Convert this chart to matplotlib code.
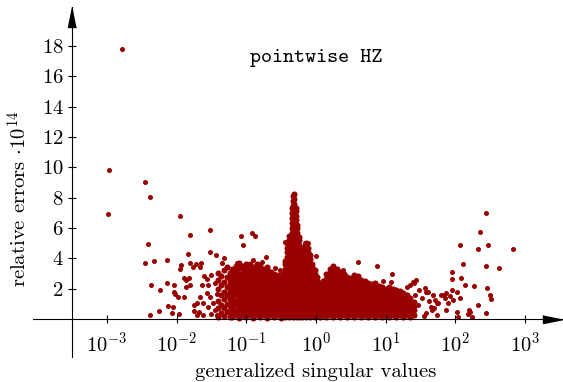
import matplotlib.pyplot as plt
import numpy as np

plt.rcParams['font.family'] = 'serif'
plt.rcParams['font.serif'] = ['cmr10']
plt.rcParams['mathtext.fontset'] = 'cm'
plt.rcParams['axes.formatter.use_mathtext'] = True

# isolated points: log10(generalized singular value), relative error * 1e14
sparse_log_sv = [
    -2.78, -2.97, -2.98, -2.45, -2.38, -1.95, -1.81, -1.52, -2.41, -2.46,
    -2.32, -2.14, -1.84, -1.52, -1.44, -2.36, -2.24, -2.14, -2.04, -2.03,
    -1.98, -2.12, -2.05, -2.25, -2.38, -2.06, -1.97, -1.89, -1.95, -1.93,
    -1.81, -1.76, -1.72, -1.66, -1.65, -1.89, -1.86, -1.82, -1.87, -1.81,
    -1.60, -1.57, -1.64, -1.55, -1.50, -1.45, -2.02, -1.66, -1.70, -1.75,
    -1.62, -1.75, -1.68, -1.70, -1.62, -1.55, -1.48, -1.42, -1.52, -1.57,
    -1.45, -1.50, -1.42,
    -1.07, -0.92, -0.87, -1.04, -1.32, -0.72, -1.13, -1.35, -0.90, -0.78,
    -0.59, -0.52, -0.43,
    -0.44, -0.16, -0.11, 0.00, 0.61, 0.88, 0.39, 1.09, 0.96, 1.07,
    1.44, 1.39, 1.35, 1.30, 1.42, 1.56, 1.58, 1.68, 1.73, 1.66,
    1.83, 1.87, 1.85, 1.92, 1.95, 1.95, 1.95, 1.97, 2.07, 2.11,
    2.08, 2.14, 2.07, 2.02, 2.21, 2.24, 2.27, 2.33, 2.32, 2.35,
    2.44, 2.47, 2.44, 2.45, 2.49, 2.51, 2.44, 2.82, 2.62,
    2.03, 1.90, 1.87, 2.04, 2.18, 2.19, 1.40, 1.61, 1.71, 1.80,
    1.75, 1.65, 1.47, 1.58, 1.73, 1.70, 1.52, 1.55, 1.62, 1.48,
]
sparse_err = [
    17.8, 9.82, 6.94, 9.05, 8.06, 6.81, 5.56, 5.89, 4.94, 3.67,
    3.82, 3.89, 4.26, 4.40, 4.24, 2.22, 1.91, 2.35, 2.24, 1.80,
    1.43, 0.86, 0.77, 0.55, 0.28, 0.42, 0.33, 1.47, 3.32, 3.56,
    3.67, 3.45, 3.63, 3.45, 3.67, 2.68, 2.57, 2.68, 2.13, 2.24,
    2.83, 2.62, 2.24, 2.24, 2.90, 2.35, 1.65, 1.43, 1.03, 0.92,
    1.07, 0.51, 0.46, 0.24, 0.24, 0.81, 1.07, 1.65, 1.47, 1.69,
    0.59, 0.33, 0.26,
    5.49, 5.69, 5.49, 4.86, 4.04, 4.11, 3.71, 3.71, 3.89, 3.78,
    3.34, 3.23, 5.03,
    5.10, 5.00, 5.00, 4.15, 3.78, 3.50, 3.23, 2.97, 2.50, 2.46,
    2.57, 2.46, 2.24, 2.13, 1.58, 2.02, 1.80, 1.58, 1.03, 0.59,
    1.58, 1.69, 1.36, 1.52, 3.12, 2.62, 1.91, 1.25, 4.88, 3.60,
    2.72, 2.24, 1.36, 0.48, 0.48, 0.11, 2.18, 0.92, 4.59, 5.71,
    7.00, 4.88, 3.49, 2.02, 1.58, 1.30, 0.38, 4.59, 3.34,
    1.80, 1.03, 0.59, 0.15, 0.33, 0.59, 2.35, 1.80, 1.25, 1.58,
    1.03, 0.81, 0.92, 0.38, 0.26, 0.70, 1.36, 0.20, 1.20, 1.90,
]

# dense band, one column per log10(singular value)
dense_cols = [
    (-1.40, [0.1, 0.75, 1.2, 1.95, 2.6, 3.05]),
    (-1.36, [0.4, 0.95, 1.55, 2.25, 2.85]),
    (-1.32, [0.2, 0.7, 1.3, 1.75, 2.45, 3.2]),
    (-1.28, [0.45, 1.0, 1.6, 2.1, 2.75, 3.4]),
    (-1.24, [0.12, 0.6, 0.95, 1.35, 1.85, 2.3, 2.6, 3.05]),
    (-1.20, [0.1, 0.42, 0.74, 1.05, 1.4, 1.7, 2.04, 2.36, 2.7, 3.0, 3.3]),
    (-1.15, [0.24, 0.56, 0.9, 1.2, 1.55, 1.87, 2.2, 2.5, 2.85, 3.17, 3.5]),
    (-1.10, [0.08, 0.4, 0.72, 1.06, 1.37, 1.7, 2.03, 2.35, 2.68, 3.0, 3.33, 3.68]),
    (-1.05, [0.26, 0.58, 0.9, 1.22, 1.54, 1.86, 2.2, 2.52, 2.84, 3.16, 3.48]),
    (-1.00, [0.1, 0.42, 0.74, 1.06, 1.38, 1.7, 2.02, 2.34, 2.66, 2.98, 3.3, 3.65]),
    (-0.95, [0.24, 0.56, 0.88, 1.2, 1.52, 1.84, 2.16, 2.48, 2.8, 3.12, 3.45, 3.62]),
    (-0.90, [0.08, 0.4, 0.72, 1.04, 1.36, 1.68, 2.0, 2.32, 2.64, 2.96, 3.28, 3.42]),
    (-0.85, [0.25, 0.57, 0.89, 1.21, 1.53, 1.85, 2.17, 2.49, 2.81, 3.13, 3.45, 3.6]),
    (-0.80, [0.1, 0.42, 0.74, 1.06, 1.38, 1.7, 2.02, 2.34, 2.66, 2.98, 3.3, 3.5]),
    (-0.75, [0.24, 0.56, 0.88, 1.2, 1.52, 1.84, 2.16, 2.48, 2.8, 3.12, 3.3]),
    (-0.70, [0.08, 0.4, 0.72, 1.04, 1.36, 1.68, 2.0, 2.32, 2.64, 2.96, 3.28, 3.42]),
    (-0.65, [0.25, 0.57, 0.89, 1.21, 1.53, 1.85, 2.17, 2.49, 2.81, 3.1]),
    (-0.60, [0.1, 0.42, 0.74, 1.06, 1.38, 1.7, 2.02, 2.34, 2.66, 2.98]),
    (-0.55, [0.24, 0.56, 0.88, 1.2, 1.52, 1.84, 2.16, 2.48, 2.8, 2.92]),
    (-0.50, [0.08, 0.4, 0.72, 1.04, 1.36, 1.68, 2.0, 2.32, 2.64, 2.72]),
    (-0.47, [0.25, 0.57, 0.89, 1.21, 1.53, 1.85, 2.17, 2.49, 2.81, 3.0]),
    (-0.44, [0.1, 0.42, 0.74, 1.06, 1.38, 1.7, 2.02, 2.34, 2.66, 2.98, 3.3, 3.62, 3.85]),
    (-0.41, [0.25, 0.57, 0.89, 1.21, 1.53, 1.85, 2.17, 2.49, 2.81, 3.13, 3.45, 3.77,
             4.09, 4.41, 4.65]),
    (-0.38, [0.1, 0.42, 0.74, 1.06, 1.38, 1.7, 2.02, 2.34, 2.66, 2.98, 3.3, 3.62, 3.94,
             4.26, 4.58, 4.9, 5.22, 5.45]),
    (-0.35, [0.25, 0.57, 0.89, 1.21, 1.53, 1.85, 2.17, 2.49, 2.81, 3.13, 3.45, 3.77,
             4.09, 4.41, 4.73, 5.05, 5.37, 5.69, 6.01, 6.33, 6.65, 6.97, 7.29]),
    (-0.33, [0.1, 0.42, 0.74, 1.06, 1.38, 1.7, 2.02, 2.34, 2.66, 2.98, 3.3, 3.62, 3.94,
             4.26, 4.58, 4.9, 5.22, 5.54, 5.86, 6.18, 6.5, 6.82, 7.14, 7.46, 7.78, 8.1]),
    (-0.31, [0.25, 0.57, 0.89, 1.21, 1.53, 1.85, 2.17, 2.49, 2.81, 3.13, 3.45, 3.77,
             4.09, 4.41, 4.73, 5.05, 5.37, 5.69, 6.01, 6.33, 6.65, 6.97, 7.29, 7.61,
             7.93, 8.25]),
    (-0.29, [0.1, 0.42, 0.74, 1.06, 1.38, 1.7, 2.02, 2.34, 2.66, 2.98, 3.3, 3.62, 3.94,
             4.26, 4.58, 4.9, 5.22, 5.54, 5.86, 6.18, 6.5, 6.82, 7.14, 7.3]),
    (-0.27, [0.25, 0.57, 0.89, 1.21, 1.53, 1.85, 2.17, 2.49, 2.81, 3.13, 3.45, 3.77,
             4.09, 4.41, 4.73, 5.05, 5.37, 5.69, 6.01, 6.2]),
    (-0.25, [0.1, 0.42, 0.74, 1.06, 1.38, 1.7, 2.02, 2.34, 2.66, 2.98, 3.3, 3.62, 3.94,
             4.26, 4.58, 4.9, 5.22, 5.4]),
    (-0.23, [0.25, 0.57, 0.89, 1.21, 1.53, 1.85, 2.17, 2.49, 2.81, 3.13, 3.45, 3.77,
             4.09, 4.41, 4.6]),
    (-0.20, [0.1, 0.42, 0.74, 1.06, 1.38, 1.7, 2.02, 2.34, 2.66, 2.98, 3.3, 3.62, 3.94,
             4.26]),
    (-0.17, [0.25, 0.57, 0.89, 1.21, 1.53, 1.85, 2.17, 2.49, 2.81, 3.13, 3.45, 3.77,
             4.09, 4.41, 4.73]),
    (-0.14, [0.1, 0.42, 0.74, 1.06, 1.38, 1.7, 2.02, 2.34, 2.66, 2.98, 3.3, 3.62, 3.94,
             4.26, 4.58, 4.9, 5.0]),
    (-0.11, [0.25, 0.57, 0.89, 1.21, 1.53, 1.85, 2.17, 2.49, 2.81, 3.13, 3.45, 3.77,
             4.09, 4.41, 4.7]),
    (-0.08, [0.1, 0.42, 0.74, 1.06, 1.38, 1.7, 2.02, 2.34, 2.66, 2.98, 3.3, 3.62, 3.94,
             4.2]),
    (-0.05, [0.25, 0.57, 0.89, 1.21, 1.53, 1.85, 2.17, 2.49, 2.81, 3.13, 3.45, 3.6]),
    (-0.02, [0.1, 0.42, 0.74, 1.06, 1.38, 1.7, 2.02, 2.34, 2.66, 2.98, 3.2]),
    (0.02, [0.25, 0.57, 0.89, 1.21, 1.53, 1.85, 2.17, 2.49, 2.8]),
    (0.06, [0.1, 0.42, 0.74, 1.06, 1.38, 1.7, 2.02, 2.34, 2.4]),
    (0.10, [0.25, 0.57, 0.89, 1.21, 1.53, 1.85, 2.17, 2.49]),
    (0.15, [0.1, 0.42, 0.74, 1.06, 1.38, 1.7, 2.02, 2.34, 2.66, 2.98]),
    (0.20, [0.25, 0.57, 0.89, 1.21, 1.53, 1.85, 2.17, 2.49, 2.81, 3.13, 3.3]),
    (0.25, [0.1, 0.42, 0.74, 1.06, 1.38, 1.7, 2.02, 2.34, 2.66, 2.98, 3.3, 3.5]),
    (0.30, [0.25, 0.57, 0.89, 1.21, 1.53, 1.85, 2.17, 2.49, 2.81, 3.13, 3.3]),
    (0.35, [0.1, 0.42, 0.74, 1.06, 1.38, 1.7, 2.02, 2.34, 2.66, 2.98, 3.1]),
    (0.40, [0.25, 0.57, 0.89, 1.21, 1.53, 1.85, 2.17, 2.49, 2.81, 3.0]),
    (0.45, [0.1, 0.42, 0.74, 1.06, 1.38, 1.7, 2.02, 2.34, 2.66, 2.8]),
    (0.50, [0.25, 0.57, 0.89, 1.21, 1.53, 1.85, 2.17, 2.49, 2.7]),
    (0.55, [0.1, 0.42, 0.74, 1.06, 1.38, 1.7, 2.02, 2.34, 2.66, 2.9]),
    (0.60, [0.25, 0.57, 0.89, 1.21, 1.53, 1.85, 2.17, 2.49, 2.81]),
    (0.65, [0.1, 0.42, 0.74, 1.06, 1.38, 1.7, 2.02, 2.34, 2.6]),
    (0.70, [0.25, 0.57, 0.89, 1.21, 1.53, 1.85, 2.17, 2.49]),
    (0.75, [0.1, 0.42, 0.74, 1.06, 1.38, 1.7, 2.02, 2.34, 2.4]),
    (0.80, [0.25, 0.57, 0.89, 1.21, 1.53, 1.85, 2.17, 2.3]),
    (0.85, [0.1, 0.42, 0.74, 1.06, 1.38, 1.7, 2.02, 2.34, 2.4]),
    (0.90, [0.25, 0.57, 0.89, 1.21, 1.53, 1.85, 2.17]),
    (0.95, [0.1, 0.42, 0.74, 1.06, 1.38, 1.7, 2.02, 2.1]),
    (1.00, [0.25, 0.57, 0.89, 1.21, 1.53, 1.85, 2.0]),
    (1.05, [0.1, 0.42, 0.74, 1.06, 1.38, 1.7, 2.02, 2.1]),
    (1.10, [0.25, 0.57, 0.89, 1.21, 1.53, 1.85, 2.0]),
    (1.15, [0.1, 0.42, 0.74, 1.06, 1.38, 1.7, 1.9]),
    (1.20, [0.25, 0.57, 0.89, 1.21, 1.53, 1.85]),
    (1.25, [0.1, 0.42, 0.74, 1.06, 1.38, 1.7]),
    (1.30, [0.25, 0.57, 0.89, 1.21, 1.53, 1.6]),
    (1.35, [0.1, 0.42, 0.74, 1.06, 1.38]),
    (1.40, [0.25, 0.57, 0.89, 1.1]),
]

dense_log_sv = []
dense_err = []
for lx, ys in dense_cols:
    dense_log_sv += [lx] * len(ys)
    dense_err += ys

mark_color = '#990000'

fig = plt.figure(figsize=(5.63, 3.82), dpi=100)
ax = fig.add_axes([33 / 563, 25 / 382, 530 / 563, 350 / 382])
# overlapping dots of the dense band drawn a touch larger so the mass reads solid
ax.scatter(10.0 ** np.array(dense_log_sv), dense_err, s=19, c=mark_color,
           linewidths=0, zorder=1)
ax.scatter(10.0 ** np.array(sparse_log_sv), sparse_err, s=13, c=mark_color,
           linewidths=0, zorder=1)

ax.set_xscale('log')
ax.set_xlim(10 ** -4.06, 10 ** 3.544)
ax.set_ylim(-2.505, 20.57)
ax.patch.set_visible(False)
for side in ['top', 'right']:
    ax.spines[side].set_visible(False)
ax.spines['left'].set_position(('data', 10 ** -3.5))
ax.spines['bottom'].set_position(('data', 0))
for side in ['left', 'bottom']:
    ax.spines[side].set_linewidth(0.8)

ax.set_xticks([10.0 ** k for k in range(-3, 4)])
ax.xaxis.set_minor_locator(plt.NullLocator())
ax.set_yticks(range(2, 19, 2))
ax.tick_params(direction='inout', length=6, width=0.8, labelsize=14.9)
ax.tick_params(axis='x', pad=6)
ax.tick_params(axis='y', pad=3)

# arrow heads on the axis lines
ax.plot([1], [0], marker=[(0, 0), (-20, -4), (-20, 4)], ms=28.8, color='k',
        transform=ax.get_yaxis_transform(), clip_on=False)
ax.plot([10 ** -3.5], [1], marker=[(0, 0), (-4, -20), (4, -20)], ms=28.8, color='k',
        transform=ax.get_xaxis_transform(), clip_on=False)

fig.text(19 / 563, 1 - 199 / 382, r'relative errors $\cdot 10^{14}$', rotation=90,
         ha='center', va='center', fontsize=14.9)
fig.text(316 / 563, 1 - 372 / 382, 'generalized singular values',
         ha='center', va='center', fontsize=14.9)
fig.text(316 / 563, 1 - 58 / 382, 'pointwise HZ', family='cmtt10',
         ha='center', va='center', fontsize=15.2)

fig.savefig('out.png', dpi=100)
